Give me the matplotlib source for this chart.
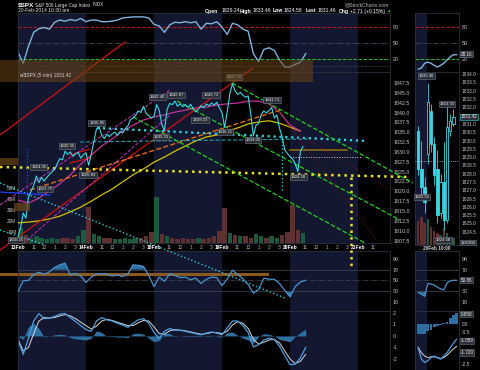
import numpy as np
import matplotlib.pyplot as plt
from matplotlib.patches import Rectangle

plt.rcParams['font.family'] = ['Liberation Sans', 'DejaVu Sans']

# ---------------- data (hours counted from 13Feb 9:30 open) ----------------
days = ['13Feb', '14Feb', '18Feb', '19Feb', '20Feb', '21Feb']
shaded_days = [0, 2, 4]
hour_labels = ['11', '12', '1', '2', '3']
hour_offsets = [1.5, 2.5, 3.5, 4.5, 5.5]

# $SPX 15-minute closes
close_13feb = [1808.6, 1810.8, 1814.5, 1813.2, 1818.5, 1820.0, 1821.5, 1823.9, 1822.2, 1823.6,
               1822.6, 1823.5, 1824.3, 1824.9, 1825.6, 1827.0, 1828.3, 1828.0, 1830.2, 1829.4,
               1830.0, 1828.9, 1829.5, 1829.9, 1828.4, 1829.3]
close_14feb = [1829.8, 1826.6, 1829.4, 1832.6, 1835.8, 1836.4, 1834.2, 1833.4, 1834.5, 1833.9,
               1834.6, 1835.0, 1834.2, 1835.2, 1834.8, 1835.9, 1836.6, 1838.2, 1838.6, 1839.3,
               1840.4, 1840.0, 1841.6, 1839.8, 1839.2, 1838.6]
close_18feb = [1839.0, 1842.0, 1840.5, 1837.0, 1835.4, 1840.8, 1842.3, 1842.0, 1842.9, 1841.6,
               1842.2, 1841.5, 1842.0, 1841.3, 1842.1, 1841.0, 1840.2, 1840.9, 1841.8, 1841.2,
               1842.2, 1841.7, 1842.4, 1841.9, 1842.6, 1841.2]
close_19feb = [1840.0, 1836.2, 1840.2, 1844.8, 1847.3, 1845.5, 1844.6, 1845.1, 1844.4, 1843.9,
               1844.2, 1839.6, 1834.1, 1836.8, 1837.2, 1839.5, 1840.4, 1839.9, 1840.5, 1841.3,
               1838.6, 1839.4, 1836.0, 1833.8, 1830.5, 1829.6]
close_20feb = [1828.8, 1828.2, 1827.0, 1825.0, 1830.2, 1831.4]

# hourly moving averages
ma_pink = [1817.8, 1817.0, 1818.3, 1820.1, 1821.9, 1824.2, 1826.9, 1829.2, 1831.5, 1833.3,
           1835.3, 1836.8, 1838.1, 1838.9, 1839.4, 1840.1, 1840.6, 1841.2, 1841.4, 1841.9,
           1842.2, 1842.4, 1842.9, 1842.9, 1842.2, 1840.1, 1836.8, 1835.3]
ma_yellow = [1812.0, 1812.2, 1812.5, 1813.0, 1813.7, 1814.8, 1816.0, 1817.5, 1819.1, 1820.6,
             1822.4, 1824.2, 1825.7, 1827.4, 1828.7, 1830.2, 1831.5, 1832.8, 1833.8, 1834.3,
             1835.3, 1836.1, 1837.1, 1837.6, 1837.9, 1837.3, 1836.3, 1835.3]

# 30-minute indicator values
slow_sto = [33, 12, 44, 70, 77, 79, 76, 89, 93, 91, 94, 92, 96,
            90, 93, 93, 90, 90, 91, 93, 97, 98, 99, 99, 99, 97,
            85, 82, 70, 84, 89, 88, 90, 88, 90, 76, 87, 86, 90,
            80, 66, 87, 84, 76, 72, 30, 15, 38, 41, 36, 18, 5,
            5, 10, 14, 30]
rsi = [29, 49, 50, 61, 65, 61, 66, 74, 79, 82, 60, 63, 58,
       46, 56, 62, 62, 62, 58, 60, 57, 62, 79, 78, 76, 59,
       38, 56, 48, 62, 59, 55, 56, 51, 54, 44, 52, 56, 55,
       40, 52, 69, 61, 53, 42, 26, 33, 54, 52, 52, 44, 31,
       19, 38, 47, 50]
macd = [-0.35, -1.6, -0.2, 1.3, 1.95, 1.5, 1.55, 1.7, 1.9, 1.95, 1.6, 1.25, 0.9,
        0.55, 0.4, 1.3, 1.6, 1.4, 1.3, 1.1, 0.95, 0.75, 1.1, 1.4, 1.5, 1.1,
        0.3, -0.2, 0.4, 0.65, 0.5, 0.5, 0.4, 0.3, 0.2, 0.1, 0.25, 0.35, 0.25,
        0.1, 0.7, 1.3, 1.3, 0.9, 0.3, -0.95, -0.75, -0.35, -0.2, -0.3, -0.9, -1.7,
        -2.5, -2.45, -1.9, -1.0]
macd_signal = [-0.3, -1.3, -1.0, 0.2, 1.3, 1.6, 1.55, 1.6, 1.75, 1.85, 1.75, 1.5, 1.2,
               0.9, 0.6, 0.85, 1.3, 1.45, 1.35, 1.2, 1.05, 0.9, 0.9, 1.15, 1.35, 1.3,
               0.8, 0.2, 0.15, 0.45, 0.55, 0.5, 0.45, 0.35, 0.25, 0.15, 0.2, 0.3, 0.3,
               0.2, 0.4, 0.95, 1.25, 1.1, 0.65, -0.3, -0.7, -0.55, -0.35, -0.3, -0.6, -1.3,
               -2.0, -2.4, -2.2, -1.6]
macd_hist = [-0.05, -0.3, 0.8, 1.1, 0.65, -0.1, 0.0, 0.1, 0.15, 0.1, -0.15, -0.25, -0.3,
             -0.35, -0.2, 0.45, 0.3, -0.05, -0.05, -0.1, -0.1, -0.15, 0.2, 0.25, 0.15, -0.2,
             -0.5, -0.4, 0.25, 0.2, -0.05, 0.0, -0.05, -0.05, -0.05, -0.05, 0.05, 0.05, -0.05,
             -0.1, 0.3, 0.35, 0.05, -0.2, -0.35, -0.65, -0.05, 0.2, 0.15, 0.0, -0.3, -0.4,
             -0.5, -0.05, 0.3, 0.6]
volume_m = [14, 7, 5, 6, 5, 4, 5, 4, 5, 5, 4, 6, 12,
            33, 8, 6, 5, 5, 4, 4, 5, 4, 5, 5, 6, 10,
            42, 8, 6, 5, 4, 5, 4, 4, 5, 4, 5, 6, 11,
            32, 9, 7, 6, 6, 5, 8, 6, 5, 6, 5, 7, 10,
            35, 12, 9]

# drawn trend lines: (h0, p0, h1, p1, color, linestyle, width)
trend_lines = [
    (-1.72, 1834.30, 10.23, 1857.91, '#d01010', '-', 0.9),
    (-1.72, 1805.11, 22.47, 1851.31, '#d01010', '-', 0.9),
    (-1.72, 1816.54, 14.53, 1845.72, '#c030c0', '--', 0.7),
    (0.86, 1807.65, 14.53, 1839.38, '#c030c0', '--', 0.7),
    (1.15, 1820.34, 25.05, 1840.65, '#e06a10', '--', 1.0),
    (7.55, 1836.08, 33.37, 1832.78, '#30d8e8', ':', 1.6),
    (5.93, 1832.53, 27.92, 1833.29, '#1a9aa8', '--', 0.8),
    (-1.72, 1822.12, 25.53, 1792.93, '#30c8d8', ':', 1.0),
    (-1.72, 1810.19, 2.58, 1806.38, '#30c8d8', ':', 1.0),
    (20.46, 1847.50, 37.76, 1822.12, '#20d020', '--', 0.9),
    (15.20, 1842.93, 36.52, 1812.73, '#20d020', '--', 0.9),
    (10.99, 1838.87, 33.17, 1806.89, '#20d020', '--', 0.9),
    (24.76, 1840.65, 34.42, 1807.14, '#6a1414', ':', 0.8),
    (26.00, 1836.08, 35.56, 1820.34, '#6a1414', ':', 0.8),
    (-1.72, 1826.18, 37.48, 1823.64, '#e8e020', ':', 1.8),
    (31.84, 1823.64, 31.84, 1800.55, '#e8e020', ':', 1.8),
    (26.00, 1830.49, 31.45, 1830.49, '#8a6a10', '-', 1.2),
    (26.00, 1828.72, 32.89, 1828.72, '#c8c8c8', ':', 0.7),
    (25.24, 1833.79, 25.24, 1820.34, '#30c8d8', ':', 1.0),
    (0.86, 1831.00, 0.86, 1816.03, '#2040ff', ':', 0.9),
    (-1.72, 1819.83, 3.06, 1819.07, '#2040ff', '-', 0.9),
    (4.97, 1829.23, 6.88, 1830.75, '#e01010', '-', 0.8),
    (4.97, 1827.20, 6.88, 1828.46, '#e01010', '-', 0.8),
]

# price tags (hours, price, text)
price_tags = [
    (4.68, 1831.5, '1830.35'), (2.58, 1820.6, '1821.75'), (2.0, 1826.2, '1824.05'),
    (6.69, 1824.2, '1826.83'), (7.55, 1837.3, '1836.85'), (13.29, 1843.9, '1842.40'),
    (13.67, 1833.8, '1835.33'), (15.10, 1844.5, '1842.87'), (17.40, 1838.1, '1839.23'),
    (18.45, 1844.5, '1842.72'), (19.79, 1835.1, '1836.11'), (20.65, 1849.0, '1847.50'),
    (22.47, 1833.0, '1834.05'), (24.28, 1843.2, '1841.71'), (26.77, 1823.6, '1824.58'),
    (-0.19, 1807.7, '1810.25'),
]

# 20Feb intraday candles (right panel)
c_open = [1830.6, 1828.3, 1827.2, 1829.2, 1831.8, 1829.8, 1828.3, 1825.6, 1827.5, 1825.2, 1830.6, 1831.0]
c_high = [1830.9, 1830.0, 1827.8, 1833.46, 1832.2, 1830.2, 1829.4, 1828.0, 1829.9, 1832.3, 1831.6, 1831.9]
c_low = [1827.9, 1826.6, 1825.6, 1828.6, 1829.3, 1827.3, 1825.0, 1825.3, 1824.58, 1825.0, 1830.3, 1830.9]
c_close = [1828.3, 1827.2, 1826.3, 1832.3, 1829.8, 1827.9, 1825.5, 1827.5, 1825.2, 1830.8, 1831.2, 1831.42]
c_volume = [22, 25, 20, 24, 16, 13, 11, 9, 15, 11, 7, 6]
small_sto = [1, 3, 12, 14, 12, 8, 5, 8, 12, 18, 24, 28, 28]
small_rsi = [27, 24, 20, 44, 43, 41, 37, 34, 32, 45, 49, 50, 50]
small_macd = [-1.5, -2.2, -2.4, -2.3, -2.1, -2.0, -2.1, -2.2, -2.0, -1.8, -1.5, -1.2, -0.95]
small_signal = [-1.45, -1.8, -2.0, -2.1, -2.05, -2.05, -2.1, -2.15, -2.1, -1.95, -1.75, -1.55, -1.4]
small_hist = [-0.6, -0.65, -0.6, -0.45, -0.35, -0.2, -0.1, -0.05, 0.05, 0.15, 0.35, 0.55, 0.7]

# ---------------- layout ----------------
W, H = 480, 370
SHADE = '#131830'
TXT = '#c8c8c8'
CYAN = '#38d8e4'
FS = 3.8

fig = plt.figure(figsize=(W / 100, H / 100), dpi=100)
fig.patch.set_facecolor('black')


def add_panel(x0, y0, x1, y1, z=1):
    ax = fig.add_axes([x0 / W, 1 - y1 / H, (x1 - x0) / W, (y1 - y0) / H], zorder=z)
    ax.set_facecolor('black')
    for s in ax.spines.values():
        s.set_color('#27313d')
        s.set_linewidth(0.6)
    ax.set_xticks([])
    ax.set_yticks([])
    ax.tick_params(length=0, labelsize=FS, colors=TXT, pad=2)
    return ax


def right_labels(ax, vals, fmt):
    ax.yaxis.tick_right()
    ax.set_yticks(vals)
    ax.set_yticklabels([fmt % v for v in vals])


def tag(ax, x, y, s, fs=3.1, ec='#6e7686', fc='#2c3038', tc='#e8e8e8'):
    ax.text(x, y, s, fontsize=fs, color=tc, ha='center', va='center', zorder=9,
            clip_on=False, bbox=dict(boxstyle='square,pad=0.2', fc=fc, ec=ec, lw=0.4))


def side_tag(ax, y, s, ec='#6e7686', fs=3.3):
    ax.text(1.04, y, s, transform=ax.get_yaxis_transform(), fontsize=fs, color='#f0f0f0',
            ha='left', va='center', zorder=9, clip_on=False,
            bbox=dict(boxstyle='square,pad=0.15', fc='#2c3038', ec=ec, lw=0.4))


price = np.array(close_13feb + close_14feb + close_18feb + close_19feb + close_20feb)
t_price = np.arange(len(price)) * 0.25
t_osc = np.arange(len(rsi)) * 0.5
t_ma = np.arange(len(ma_pink)) * 1.0
t_vol = np.arange(len(volume_m)) * 0.5
XMAX = 35.56
day_start = [6.5 * i for i in range(len(days))]

MX = (18, 390)
SX = (415, 459)

# ---------- main: top oscillator ----------
ax_top = add_panel(MX[0], 13, MX[1], 72)
ax_top.set_xlim(0, XMAX)
ax_top.set_ylim(-4.4, 106.3)
for i in shaded_days:
    ax_top.axvspan(day_start[i], day_start[i] + 6.5, color=SHADE, lw=0, zorder=0)
ax_top.axhline(80, color='#c01818', ls='--', lw=0.7)
ax_top.axhline(50, color='#3c4a5c', ls='-.', lw=0.6)
ax_top.axhline(20, color='#20c020', ls='--', lw=0.7)
ax_top.axhline(7, color='#3a4250', ls='--', lw=0.5)
ax_top.plot(t_osc, slow_sto, color='#7fb2dc', lw=1.0)
right_labels(ax_top, [80, 50, 20], '%d')

# ---------- main: volume (underneath price) ----------
ax_vol = add_panel(MX[0], 72, MX[1], 243, z=2)
ax_vol.set_xlim(0, XMAX)
ax_vol.set_ylim(0, 155.5)
for i in shaded_days:
    ax_vol.axvspan(day_start[i], day_start[i] + 6.5, color=SHADE, lw=0, zorder=0)
vol_cols = ['#1c5a3e' if price[2 * k + 1] >= price[2 * k] else '#5e3030' for k in range(len(volume_m))]
ax_vol.bar(t_vol + 0.25, volume_m, width=0.42, color=vol_cols, lw=0)
ax_vol.yaxis.tick_left()
ax_vol.set_yticks([10, 20, 30, 40, 50])
ax_vol.set_yticklabels(['10M', '20M', '30M', '40M', '50M'])
ax_vol.tick_params(axis='y', labelsize=3.4, pad=1.2, colors=TXT)

# ---------- main: price ----------
ax = fig.add_axes(ax_vol.get_position(), zorder=3)
ax.patch.set_visible(False)
for s in ax.spines.values():
    s.set_visible(False)
ax.set_xlim(0, XMAX)
ax.set_ylim(1806.89, 1850.29)
ax.plot(t_ma, ma_yellow, color='#d2c000', lw=0.9)
ax.plot(t_ma, ma_pink, color='#c8309c', lw=0.9)
for h0, p0, h1, p1, c, ls, lw in trend_lines:
    ax.plot([h0, h1], [p0, p1], color=c, ls=ls, lw=lw, clip_on=False, zorder=3)
ax.plot(t_price, price, color=CYAN, lw=0.8, zorder=4)
for h, p, s in price_tags:
    tag(ax, h, p, s)
levels = np.arange(1807.5, 1848.0, 2.5)
right_labels(ax, levels, '%.1f')
ax.tick_params(axis='y', length=0, labelsize=FS, colors=TXT, pad=2.5)
xt, xl = [], []
for i, d in enumerate(days):
    xt.append(day_start[i])
    xl.append(d)
    for off, hl in zip(hour_offsets, hour_labels):
        if day_start[i] + off < XMAX - 1:
            xt.append(day_start[i] + off)
            xl.append(hl)
ax.set_xticks(xt)
ax.set_xticklabels(xl)
ax.tick_params(axis='x', length=0, labelsize=3.6, pad=1.2, colors='#b0b0b0')
for lab in ax.get_xticklabels():
    if lab.get_text() in days:
        lab.set_color('white')
        lab.set_fontweight('bold')

# ---------- main: RSI ----------
ax_rsi = add_panel(MX[0], 251, MX[1], 311)
ax_rsi.set_xlim(0, XMAX)
ax_rsi.set_ylim(-7.5, 104.9)
for i in shaded_days:
    ax_rsi.axvspan(day_start[i], day_start[i] + 6.5, color=SHADE, lw=0, zorder=0)
ax_rsi.axhline(70, color='#34404e', lw=0.6)
ax_rsi.axhline(30, color='#34404e', lw=0.6)
ax_rsi.axhline(50, color='#34404e', ls='-.', lw=0.6)
r = np.array(rsi, dtype=float)
ax_rsi.fill_between(t_osc, 70, r, where=r > 70, interpolate=True, color='#2f6ea0', lw=0)
ax_rsi.fill_between(t_osc, 30, r, where=r < 30, interpolate=True, color='#2f6ea0', lw=0)
ax_rsi.plot([-1.72, 23.8], [61.8, 61.8], color='#8a5a1e', lw=2.2, clip_on=False, zorder=1)
ax_rsi.plot(t_osc, rsi, color='#4a92cc', lw=0.9, zorder=3)
right_labels(ax_rsi, [90, 70, 50, 30, 10], '%d')

# ---------- main: MACD ----------
ax_macd = add_panel(MX[0], 311, MX[1], 370)
ax_macd.set_xlim(0, XMAX)
ax_macd.set_ylim(-2.96, 2.17)
for i in shaded_days:
    ax_macd.axvspan(day_start[i], day_start[i] + 6.5, color=SHADE, lw=0, zorder=0)
ax_macd.fill_between(t_osc, 0, macd_hist, color='#2f6ea0', lw=0)
ax_macd.plot(t_osc, macd_signal, color='#d8d8d8', lw=0.7)
ax_macd.plot(t_osc, macd, color='#4d9ee0', lw=0.9)
right_labels(ax_macd, [2, 1, 0, -1, -2], '%d')

# ---------- right side: small panels ----------
SXL = (-1, 12.75)
sx = np.arange(len(small_sto))

s_top = add_panel(SX[0], 13, SX[1], 72)
s_top.set_xlim(*SXL)
s_top.set_ylim(-4.4, 106.3)
s_top.axvspan(-1, 2.75, color=SHADE, lw=0, zorder=0)
s_top.axhline(80, color='#c01818', ls='--', lw=0.7)
s_top.axhline(50, color='#3c4a5c', ls='-.', lw=0.6)
s_top.axhline(20, color='#20c020', ls='--', lw=0.7)
s_top.plot(sx, small_sto, color='#7fb2dc', lw=1.0)
right_labels(s_top, [80, 50, 20], '%d')
side_tag(s_top, 29, '28.16')

s_vol = add_panel(SX[0], 72, SX[1], 245, z=2)
s_vol.set_xlim(*SXL)
s_vol.set_ylim(0, 157)
s_vol.axvspan(-1, 2.75, color=SHADE, lw=0, zorder=0)
cidx = np.arange(len(c_open))
s_vol.bar(cidx, c_volume, width=0.8,
          color=['#5e3030' if c < o else '#1c5a3e' for o, c in zip(c_open, c_close)], lw=0)

s_px = fig.add_axes(s_vol.get_position(), zorder=3)
s_px.patch.set_visible(False)
for s in s_px.spines.values():
    s.set_visible(False)
s_px.set_xlim(*SXL)
s_px.set_ylim(1823.70, 1834.13)
s_px.set_xticks([])
s_px.axhline(1828.75, color='#c8c8c8', ls=':', lw=0.6)
for i in cidx:
    o, hi, lo, c = c_open[i], c_high[i], c_low[i], c_close[i]
    s_px.vlines(i, lo, hi, color=CYAN, lw=0.6)
    filled = c < o
    s_px.add_patch(Rectangle((i - 0.38, min(o, c)), 0.76, abs(c - o),
                             fc=CYAN if filled else 'black', ec=CYAN, lw=0.6, zorder=3))
right_labels(s_px, np.arange(1824.5, 1834.01, 0.5), '%.1f')
s_px.tick_params(axis='y', length=0, labelsize=3.4, colors=TXT, pad=2)
side_tag(s_px, 1831.42, '1831.42', ec=CYAN)
tag(s_px, 2.6, 1833.89, '1833.46')
tag(s_px, 9.0, 1832.2, '1831.55')
tag(s_px, 1.2, 1826.6, '1825.55')
tag(s_px, 7.8, 1824.0, '1824.58')
side_tag(s_px, 1823.85, '1130900', fs=2.8)

s_rsi = add_panel(SX[0], 251, SX[1], 311)
s_rsi.set_xlim(*SXL)
s_rsi.set_ylim(-7.5, 104.9)
s_rsi.axvspan(-1, 2.75, color=SHADE, lw=0, zorder=0)
s_rsi.axhline(70, color='#34404e', lw=0.6)
s_rsi.axhline(30, color='#34404e', lw=0.6)
s_rsi.axhline(50, color='#34404e', ls='-.', lw=0.6)
sr = np.array(small_rsi, dtype=float)
s_rsi.fill_between(sx, 30, sr, where=sr < 30, interpolate=True, color='#2f6ea0', lw=0)
s_rsi.plot(sx, small_rsi, color='#4a92cc', lw=0.9)
right_labels(s_rsi, [90, 70, 30, 10], '%d')
side_tag(s_rsi, 50, '50.86')

s_macd = add_panel(SX[0], 311, SX[1], 370)
s_macd.set_xlim(*SXL)
s_macd.set_ylim(-2.875, 0.81)
s_macd.axvspan(-1, 2.75, color=SHADE, lw=0, zorder=0)
s_macd.bar(sx, small_hist, width=0.9, color='#2f6ea0', lw=0)
s_macd.plot(sx, small_signal, color='#d8d8d8', lw=0.7)
s_macd.plot(sx, small_macd, color='#4d9ee0', lw=0.9)
right_labels(s_macd, [0.0, -0.5, -2.5], '%.1f')
s_macd.tick_params(axis='y', labelsize=3.4)
side_tag(s_macd, 0.62, '0.858')
side_tag(s_macd, -1.059, '-1.059')
side_tag(s_macd, -1.78, '-1.720')

# ---------- overlays in figure pixels ----------
def fig_rect(x0, y0, x1, y1, **kw):
    fig.add_artist(Rectangle((x0 / W, 1 - y1 / H), (x1 - x0) / W, (y1 - y0) / H,
                             transform=fig.transFigure, **kw))


def fig_text(x, y, s, **kw):
    fig.text(x / W, 1 - y / H, s, va='center', **kw)


fig_rect(0, 60, 313, 82, fc='#6b4516', alpha=0.55, lw=0, zorder=5)
fig_rect(0, 158, 18, 165, fc='#6b4516', alpha=0.7, lw=0, zorder=5)
fig_rect(14, 203, 30, 211, fc='#6b4516', alpha=0.7, lw=0, zorder=5)
fig_text(19, 76, r'w/\$SPX (5 min) 1831.42', fontsize=3.4, color='#d8d8d8', zorder=6)

fig_text(18, 5, r'\$SPX', fontsize=4.6, color='white', fontweight='bold')
fig_text(35, 5, 'S&P 500 Large Cap Index', fontsize=3.4, color='#e0e0e0')
fig_text(93, 5, 'INDX', fontsize=3.4, color='#e0e0e0')
fig_text(18, 11, '20-Feb-2014 10:30 am', fontsize=3.6, color='#e0e0e0')
fig_text(389, 5, '@StockCharts.com', fontsize=3.7, color='#b8b8b8', ha='right')
header = [(205, 'Open', True), (222, '1829.24', False), (240, 'High', True), (253, '1833.46', False),
          (273, 'Low', True), (284, '1824.58', False), (306, 'Last', True), (318, '1831.46', False),
          (339, 'Chg', True), (350, '+2.71 (+0.15%)', False)]
for x, s, b in header:
    fig_text(x, 11, s, fontsize=3.7, color='white', fontweight='bold' if b else 'normal')
fig_text(386, 11, '\u25B2', fontsize=3.2, color='#20d020')
fig_text(437, 248, '20Feb 10:00', fontsize=3.4, color='#d8d8d8', ha='center', fontweight='bold')

fig.savefig('out.png', dpi=100, facecolor='black')
